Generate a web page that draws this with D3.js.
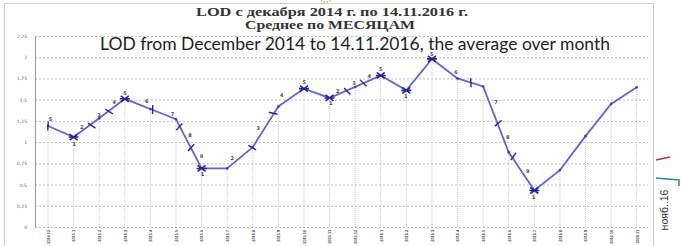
<!DOCTYPE html>
<html>
<head>
<meta charset="utf-8">
<script src="https://cdn.jsdelivr.net/npm/d3@7"></script>
<style>
  body { margin: 0; background: #fff; }
  svg { display: block; }
</style>
</head>
<body>
<div id="chart"></div>
<script>
// Monthly average LOD, Dec 2014 .. Nov 2016
const months = ["2014 12", "2015 1", "2015 2", "2015 3", "2015 4", "2015 5", "2015 6", "2015 7",
  "2015 8", "2015 9", "2015 10", "2015 11", "2015 12", "2016 1", "2016 2", "2016 3",
  "2016 4", "2016 5", "2016 6", "2016 7", "2016 8", "2016 9", "2016 10", "2016 11"];
const lod = [1.19, 1.06, 1.28, 1.51, 1.39, 1.27, 0.69, 0.69, 0.94, 1.42, 1.63, 1.52,
  1.65, 1.785, 1.61, 1.98, 1.75, 1.655, 0.88, 0.43, 0.67, 1.07, 1.45, 1.645];
// months drawn with a cross marker
const crossIdx = [1, 3, 6, 10, 11, 13, 14, 15, 19];
// short dashes across the line: [month index (fractional), value]
const dashPts = [[0, 1.19], [1.71, 1.195], [2.39, 1.36], [4.09, 1.385], [5.13, 1.18], [5.59, 0.935],
  [7.98, 0.935], [8.8, 1.34], [11.69, 1.6], [12.32, 1.695], [16.52, 1.70], [17.59, 1.223], [18.18, 0.83]];
// small digit notes: [month index, value, text]
const notes = [[0.1, 1.27, "5"], [1.03, 0.976, "1"], [1.32, 1.176, "2"], [1.99, 1.32, "3"],
  [2.59, 1.467, "4"], [3.01, 1.577, "5"], [3.86, 1.487, "6"], [4.86, 1.33, "7"], [5.55, 1.085, "8"],
  [6.0, 0.838, "9"], [6.04, 0.622, "1"], [7.2, 0.81, "2"], [8.21, 1.164, "3"], [9.13, 1.549, "4"],
  [10.01, 1.70, "5"], [11.05, 1.46, "1"], [11.32, 1.605, "2"], [11.95, 1.695, "3"], [12.55, 1.773, "4"],
  [13.0, 1.86, "5"], [13.98, 1.537, "1"], [14.99, 2.03, "5"], [15.94, 1.82, "6"], [17.5, 1.471, "7"],
  [17.96, 1.058, "8"], [18.74, 0.652, "9"], [18.98, 0.35, "1"]];
const yTicks = [0, 0.25, 0.5, 0.75, 1, 1.25, 1.5, 1.75, 2, 2.25];

const W = 681, H = 246;

const svg = d3.select("#chart").append("svg")
  .attr("width", W)
  .attr("height", H);

// outer frame
svg.append("rect")
  .attr("x", 4.5).attr("y", 3.5)
  .attr("width", 649).attr("height", 250)
  .attr("fill", "none")
  .attr("stroke", "#cfcfcf");

// bit of a logo peeking at the top
svg.append("circle")
  .attr("cx", 326).attr("cy", -7).attr("r", 9)
  .attr("fill", "none")
  .attr("stroke", "#b9c65a")
  .attr("stroke-dasharray", "1.5,1.5")
  .attr("stroke-width", 1.5);

const x = d3.scaleLinear().domain([0, months.length - 1]).range([48, 636.7]);
const y = d3.scaleLinear().domain([0, 2.25]).range([227, 36]);

// horizontal gridlines
svg.append("g")
  .attr("transform", "translate(35,0)")
  .call(d3.axisLeft(y).tickValues(yTicks).tickSize(-613).tickFormat(""))
  .call(g => g.select(".domain").remove())
  .call(g => g.selectAll("line")
    .attr("stroke", "#bdbdbd")
    .attr("stroke-dasharray", "2,2"));

// y labels, comma decimals
svg.append("g")
  .attr("transform", "translate(35,0)")
  .call(d3.axisLeft(y).tickValues(yTicks).tickSize(0).tickPadding(8)
    .tickFormat(d => String(d).replace(".", ",")))
  .call(g => g.select(".domain").attr("stroke", "#9a9a9a"))
  .call(g => g.selectAll("text")
    .attr("font-family", "DejaVu Sans")
    .attr("font-size", 4.5)
    .attr("fill", "#666"));

// drop lines
svg.append("g")
  .selectAll("line")
  .data(lod)
  .join("line")
    .attr("x1", (d, i) => x(i)).attr("x2", (d, i) => x(i))
    .attr("y1", y(0)).attr("y2", d => y(d))
    .attr("stroke", "#c8c8c8")
    .attr("stroke-dasharray", "1,1");

// x labels
svg.append("g")
  .attr("transform", `translate(0,${y(0)})`)
  .call(d3.axisBottom(x).tickValues(d3.range(months.length)).tickSize(0).tickPadding(0)
    .tickFormat(i => months[i]))
  .call(g => g.select(".domain").remove())
  .call(g => g.selectAll("text")
    .attr("transform", "rotate(-90)")
    .attr("text-anchor", "end")
    .attr("x", -3).attr("y", 0).attr("dy", "0.35em")
    .attr("font-family", "Liberation Sans")
    .attr("font-weight", "bold")
    .attr("font-size", 3.8)
    .attr("fill", "#444"));

// the line
const line = d3.line()
  .x((d, i) => x(i))
  .y(d => y(d));

svg.append("path")
  .datum(lod)
  .attr("d", line)
  .attr("fill", "none")
  .attr("stroke", "#6366c6")
  .attr("stroke-width", 1.8);

// small dots on plain vertices
svg.append("g")
  .selectAll("circle")
  .data(lod.map((v, i) => [i, v]).filter(d => !crossIdx.includes(d[0])))
  .join("circle")
    .attr("cx", d => x(d[0]))
    .attr("cy", d => y(d[1]))
    .attr("r", 1.3)
    .attr("fill", "#3d3fa8");

// cross markers
const cross = svg.append("g")
  .selectAll("g")
  .data(crossIdx)
  .join("g")
    .attr("transform", i => `translate(${x(i)},${y(lod[i])})`);
cross.append("path")
  .attr("d", "M-4,-3L4,3M-4,3L4,-3M-5,0L5,0")
  .attr("stroke", "#27288f")
  .attr("stroke-width", 1.6);

// short dashes across the line
function slopeAt(t) {
  const i = Math.min(Math.floor(t), lod.length - 2);
  const dx = x(i + 1) - x(i), dy = y(lod[i + 1]) - y(lod[i]);
  return Math.atan2(dy, dx);
}
svg.append("g")
  .selectAll("line")
  .data(dashPts)
  .join("line")
    .attr("transform", d => `translate(${x(d[0])},${y(d[1])}) rotate(${slopeAt(d[0]) * 180 / Math.PI + 70})`)
    .attr("x1", -4.5).attr("x2", 4.5)
    .attr("y1", 0).attr("y2", 0)
    .attr("stroke", "#27288f")
    .attr("stroke-width", 1.4);

// digit notes
svg.append("g")
  .selectAll("text")
  .data(notes)
  .join("text")
    .attr("x", d => x(d[0]))
    .attr("y", d => y(d[1]))
    .attr("dy", "0.35em")
    .attr("text-anchor", "middle")
    .attr("font-family", "DejaVu Sans")
    .attr("font-weight", "bold")
    .attr("font-size", 5)
    .attr("fill", "#444")
    .text(d => d[2]);

// titles
svg.append("text")
  .attr("x", 196).attr("y", 16)
  .attr("font-family", "Liberation Serif")
  .attr("font-weight", "bold")
  .attr("font-size", 11.5)
  .attr("fill", "#333")
  .attr("textLength", 272)
  .attr("lengthAdjust", "spacingAndGlyphs")
  .text("LOD с декабря  2014 г. по 14.11.2016 г.");

svg.append("text")
  .attr("x", 245).attr("y", 29)
  .attr("font-family", "Liberation Serif")
  .attr("font-weight", "bold")
  .attr("font-size", 11.5)
  .attr("fill", "#333")
  .attr("textLength", 170)
  .attr("lengthAdjust", "spacingAndGlyphs")
  .text("Среднее по МЕСЯЦАМ");

svg.append("text")
  .attr("x", 100).attr("y", 50)
  .attr("font-family", "Lato")
  .attr("font-size", 18)
  .attr("fill", "#222")
  .attr("textLength", 510)
  .attr("lengthAdjust", "spacingAndGlyphs")
  .text("LOD from December 2014 to 14.11.2016, the average over month");

// slide remnants at right
svg.append("path")
  .attr("d", "M656,160L670,157")
  .attr("stroke", "#b5323a").attr("stroke-width", 1.5);
svg.append("path")
  .attr("d", "M656,178L679,180L679,186")
  .attr("fill", "none")
  .attr("stroke", "#2f8f86").attr("stroke-width", 1.5);

svg.append("text")
  .attr("transform", "translate(668,210) rotate(-90)")
  .attr("text-anchor", "middle")
  .attr("font-family", "Liberation Sans")
  .attr("font-size", 10.5)
  .attr("fill", "#333")
  .text("нояб..16");
</script>
</body>
</html>
